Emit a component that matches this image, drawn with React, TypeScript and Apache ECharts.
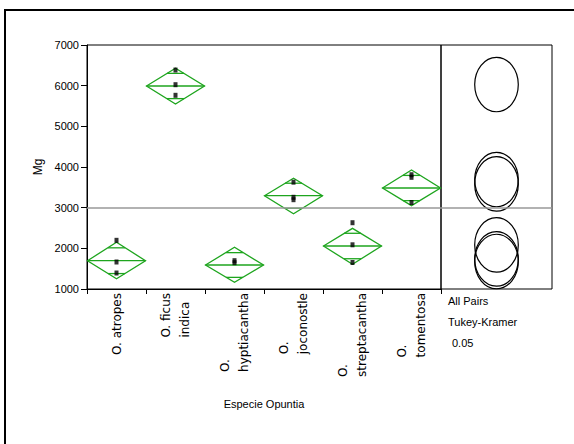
import React, { useEffect, useRef } from 'react';
import * as echarts from 'echarts';

const categories = ['O. atropes', 'O. ficus\nindica', 'O.\nhyptiacantha', 'O.\njoconostle', 'O.\nstreptacantha', 'O.\ntomentosa'];
const groupMeans = [1696, 5992, 1590, 3294, 2057, 3483];
const ciLower = [1253, 5549, 1165, 2852, 1607, 3049];
const ciUpper = [2148, 6427, 2025, 3722, 2492, 3926];
const observations: [number, number][] = [
  [0, 2197], [0, 1664], [0, 1393],
  [1, 6385], [1, 6024], [1, 5763],
  [2, 1696], [2, 1647],
  [3, 3627], [3, 3255], [3, 3196],
  [4, 2630], [4, 2087], [4, 1652],
  [5, 3810], [5, 3746], [5, 3127],
];
const grandMean = 3010;
const circleCenters = [1740, 6028, 1676, 3584, 2084, 3692];
const circleRadius = 670;
const yMin = 1000;
const yMax = 7000;
const yInterval = 1000;
const xTitle = 'Especie Opuntia';
const yTitle = 'Mg';
const panelTexts = ['All Pairs', 'Tukey-Kramer', '0.05'];

const GREEN = '#1ea51e';
const FONT = 'Liberation Sans, Arial, sans-serif';

export default function App() {
  const ref = useRef<HTMLDivElement>(null);
  useEffect(() => {
    if (!ref.current) return;
    const chart = echarts.init(ref.current, null, { renderer: 'svg' });
    const diamondData = groupMeans.map((m, i) => [i, m, ciLower[i], ciUpper[i]]);
    const circleData = circleCenters.map((c) => [0, c]);
    const option: any = {
      animation: false,
      backgroundColor: '#fff',
      textStyle: { fontFamily: FONT },
      grid: [
        { left: 87, top: 45, width: 354, height: 244, show: true, borderColor: '#000', borderWidth: 1, backgroundColor: 'transparent' },
        { left: 441, top: 45, width: 111, height: 244, show: true, borderColor: '#000', borderWidth: 1, backgroundColor: 'transparent' },
      ],
      xAxis: [
        {
          type: 'category',
          gridIndex: 0,
          data: categories,
          boundaryGap: true,
          name: xTitle,
          nameLocation: 'middle',
          nameGap: 109,
          nameTextStyle: { fontSize: 11, color: '#000', fontFamily: FONT },
          axisLine: { lineStyle: { color: '#000', width: 1 } },
          axisTick: { show: true, length: 5, lineStyle: { color: '#000' } },
          axisLabel: {
            rotate: 90,
            margin: 4,
            interval: 0,
            color: '#000',
            formatter: (v: string) => v.split('\n').map((l) => `{a|${l}}`).join('\n'),
            rich: {
              a: { align: 'left', fontSize: 12, lineHeight: 19, fontFamily: 'DejaVu Sans', color: '#000' },
            },
          },
          splitLine: { show: false },
        },
        { type: 'value', gridIndex: 1, min: -1, max: 1, show: false },
      ],
      yAxis: [
        {
          type: 'value',
          gridIndex: 0,
          min: yMin,
          max: yMax,
          interval: yInterval,
          name: yTitle,
          nameLocation: 'middle',
          nameRotate: 90,
          nameGap: 41,
          nameTextStyle: { fontSize: 12, color: '#000', fontFamily: FONT },
          axisLine: { show: true, lineStyle: { color: '#000', width: 1 } },
          axisTick: { show: true, length: 6, lineStyle: { color: '#000' } },
          axisLabel: { fontSize: 11, color: '#000', margin: 8, fontFamily: FONT, formatter: (v: number) => String(v) },
          splitLine: { show: false },
        },
        { type: 'value', gridIndex: 1, min: yMin, max: yMax, show: false },
      ],
      series: [
        {
          type: 'custom',
          xAxisIndex: 0,
          yAxisIndex: 0,
          data: diamondData,
          silent: true,
          z: 3,
          renderItem: (_p: any, api: any) => {
            const i = api.value(0);
            const mean = api.value(1);
            const lo = api.value(2);
            const hi = api.value(3);
            const c = api.coord([i, mean]);
            const yTop = api.coord([i, hi])[1];
            const yBot = api.coord([i, lo])[1];
            const band = api.size([1, 0])[0];
            const hw = band / 2 - 0.5;
            const half = (hi - lo) / 2 / Math.SQRT2;
            const oTop = api.coord([i, mean + half])[1];
            const oBot = api.coord([i, mean - half])[1];
            const ow = hw * (1 - 1 / Math.SQRT2);
            const ls = { stroke: GREEN, lineWidth: 1.3, fill: null };
            return {
              type: 'group',
              children: [
                { type: 'polygon', shape: { points: [[c[0] - hw, c[1]], [c[0], yTop], [c[0] + hw, c[1]], [c[0], yBot]] }, style: { ...ls } },
                { type: 'line', shape: { x1: c[0] - hw, y1: c[1], x2: c[0] + hw, y2: c[1] }, style: { ...ls } },
                { type: 'line', shape: { x1: c[0] - ow, y1: oTop, x2: c[0] + ow, y2: oTop }, style: { ...ls } },
                { type: 'line', shape: { x1: c[0] - ow, y1: oBot, x2: c[0] + ow, y2: oBot }, style: { ...ls } },
              ],
            };
          },
        },
        {
          type: 'scatter',
          xAxisIndex: 0,
          yAxisIndex: 0,
          data: observations,
          symbol: 'rect',
          symbolSize: [4, 5],
          itemStyle: { color: '#000' },
          silent: true,
          z: 4,
          markLine: {
            silent: true,
            symbol: ['none', 'none'],
            label: { show: false },
            lineStyle: { color: '#999', width: 1.5, type: 'solid' },
            data: [{ yAxis: grandMean }],
          },
        },
        {
          type: 'custom',
          xAxisIndex: 1,
          yAxisIndex: 1,
          data: circleData,
          silent: true,
          z: 3,
          renderItem: (_p: any, api: any) => {
            const c = api.coord([api.value(0), api.value(1)]);
            const ry = api.size([0, circleRadius])[1];
            const rx = ry * 0.8;
            return {
              type: 'ellipse',
              shape: { cx: c[0], cy: c[1], rx, ry },
              style: { stroke: '#000', lineWidth: 1.2, fill: null },
            };
          },
        },
        {
          type: 'scatter',
          xAxisIndex: 1,
          yAxisIndex: 1,
          data: [[0, grandMean]],
          symbolSize: 0,
          silent: true,
          markLine: {
            silent: true,
            symbol: ['none', 'none'],
            label: { show: false },
            lineStyle: { color: '#999', width: 1.5, type: 'solid' },
            data: [{ yAxis: grandMean }],
          },
        },
      ],
      graphic: [
        { type: 'rect', shape: { x: 5, y: 10, width: 700, height: 700 }, style: { fill: null, stroke: '#000', lineWidth: 2 }, silent: true },
        ...panelTexts.map((t, k) => ({
          type: 'text',
          left: k === 2 ? 452 : 448,
          top: 295 + k * 21,
          style: { text: t, fontSize: 11, fill: '#000', fontFamily: FONT },
          silent: true,
        })),
      ],
    };
    chart.setOption(option);
    return () => chart.dispose();
  }, []);
  return <div ref={ref} style={{ position: 'fixed', left: 0, top: 0, width: 574, height: 444, background: '#fff' }} />;
}
